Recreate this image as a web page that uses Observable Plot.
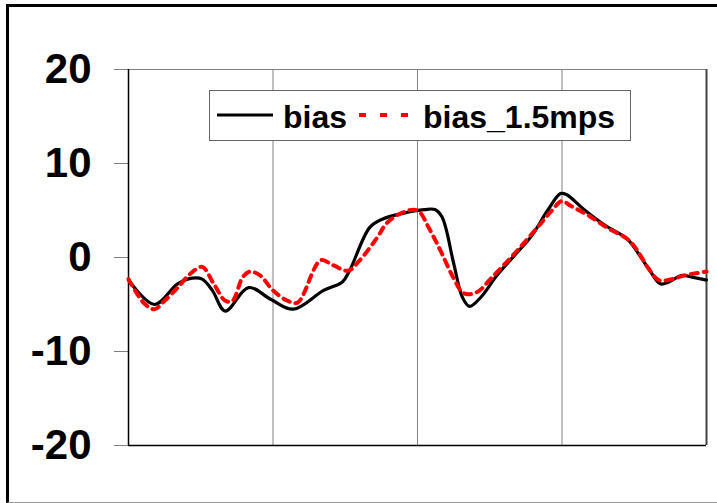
<!DOCTYPE html>
<html>
<head>
<meta charset="utf-8">
<script src="https://cdn.jsdelivr.net/npm/d3@7"></script>
<script src="https://cdn.jsdelivr.net/npm/@observablehq/plot@0.6"></script>
<style>
  html, body { margin: 0; padding: 0; background: #fff; }
  #wrap { position: relative; width: 717px; height: 503px; overflow: hidden; font-family: Arial, "Liberation Sans", sans-serif; }
  #frame { position: absolute; left: 6px; top: 4px; width: 760px; height: 495px;
           border-left: 3px solid #000; border-top: 3px solid #000; border-bottom: 1px solid #999; }
  #chart { position: absolute; left: 0; top: 0; }
  #legend { position: absolute; left: 0; top: 0; }
</style>
</head>
<body>
<div id="wrap">
  <div id="frame"></div>
  <div id="chart"></div>
  <svg id="legend" width="717" height="503"></svg>
</div>
<script>
// Series names
const seriesNames = ["bias", "bias_1.5mps"];

// bias (black solid) — positions along x (0..4) and values
const biasT = [0, 0.18, 0.34, 0.44, 0.51, 0.58, 0.67, 0.83, 0.99, 1.14, 1.35, 1.48, 1.53, 1.67, 1.76, 1.90, 2.00, 2.05, 2.12, 2.17, 2.25, 2.31, 2.36, 2.44, 2.55, 2.67, 2.79, 2.90, 2.99, 3.03, 3.16, 3.30, 3.45, 3.53, 3.60, 3.68, 3.74, 3.83, 3.90, 4.00];
const biasV = [-2.4, -5.0, -2.8, -2.2, -2.3, -3.5, -5.7, -3.2, -4.5, -5.5, -3.5, -2.6, -1.4, 3.2, 4.1, 4.7, 5.0, 5.1, 5.1, 4.3, -0.6, -4.2, -5.2, -4.2, -1.9, 0.2, 2.3, 5.0, 6.8, 6.7, 5.0, 3.4, 2.0, 0.4, -1.2, -2.8, -2.6, -1.9, -2.1, -2.4];

// bias_1.5mps (red dashed)
const bias15T = [0, 0.11, 0.18, 0.25, 0.34, 0.43, 0.51, 0.59, 0.67, 0.72, 0.79, 0.84, 0.91, 1.00, 1.10, 1.17, 1.33, 1.42, 1.52, 1.60, 1.72, 1.79, 1.90, 2.00, 2.08, 2.16, 2.25, 2.32, 2.41, 2.51, 2.67, 2.83, 2.93, 3.00, 3.06, 3.18, 3.32, 3.45, 3.51, 3.60, 3.67, 3.76, 3.85, 4.00];
const bias15V = [-2.3, -4.9, -5.5, -4.6, -3.2, -1.7, -1.0, -2.8, -4.6, -4.6, -2.1, -1.5, -1.9, -3.5, -4.6, -4.8, -0.3, -0.85, -1.4, -0.3, 2.1, 3.7, 4.8, 5.0, 3.1, 0.7, -2.2, -3.8, -3.7, -2.2, 0.4, 3.2, 5.0, 6.0, 5.5, 4.5, 3.1, 2.0, 1.0, -1.2, -2.4, -2.3, -1.9, -1.5];

// Axis ticks
const yTicks = [-20, -10, 0, 10, 20];
const xGrid = [1, 2, 3];

const bias = biasT.map((t, i) => ({t, v: biasV[i]}));
const bias15 = bias15T.map((t, i) => ({t, v: bias15V[i]}));

const plot = Plot.plot({
  width: 717,
  height: 503,
  marginLeft: 128,
  marginRight: 11,
  marginTop: 69,
  marginBottom: 58,
  style: {fontFamily: 'Arial, "Liberation Sans", sans-serif', background: "transparent", overflow: "visible"},
  x: {domain: [0, 4], axis: null},
  y: {domain: [-20, 20], axis: null},
  marks: [
    Plot.ruleX(xGrid, {stroke: "#808080", strokeWidth: 1}),
    Plot.ruleY([20], {stroke: "#808080", strokeWidth: 1}),
    Plot.ruleX([4], {stroke: "#444", strokeWidth: 2}),
    Plot.axisY(yTicks, {tickSize: 14, tickPadding: 23, fontSize: 42, fontWeight: "bold", stroke: "#808080", fill: "black", label: null, tickFormat: d => String(d)}),
    Plot.ruleY([-20], {stroke: "#000", strokeWidth: 1.5}),
    Plot.ruleX([0], {stroke: "#000", strokeWidth: 1.5}),
    Plot.line(bias, {x: "t", y: "v", stroke: "#000", strokeWidth: 3.2, curve: "catmull-rom"}),
    Plot.line(bias15, {x: "t", y: "v", stroke: "#ff0000", strokeWidth: 4, strokeDasharray: "7,6", curve: "catmull-rom"})
  ]
});
document.getElementById("chart").appendChild(plot);

// Legend box
const lg = d3.select("#legend");
const g = lg.append("g");
g.append("rect").attr("x", 209.5).attr("y", 90.5).attr("width", 421).attr("height", 50)
  .attr("fill", "#fff").attr("stroke", "#666").attr("stroke-width", 1);
g.append("line").attr("x1", 217).attr("x2", 273).attr("y1", 115).attr("y2", 115)
  .attr("stroke", "#000").attr("stroke-width", 3);
g.append("text").attr("x", 283).attr("y", 128).text(seriesNames[0])
  .attr("font-family", 'Arial, "Liberation Sans", sans-serif').attr("font-weight", "bold").attr("font-size", 32);
g.append("line").attr("x1", 359).attr("x2", 410).attr("y1", 115).attr("y2", 115)
  .attr("stroke", "#ff0000").attr("stroke-width", 4).attr("stroke-dasharray", "7,14");
g.append("text").attr("x", 423).attr("y", 128).text(seriesNames[1])
  .attr("font-family", 'Arial, "Liberation Sans", sans-serif').attr("font-weight", "bold").attr("font-size", 32);
</script>
</body>
</html>
